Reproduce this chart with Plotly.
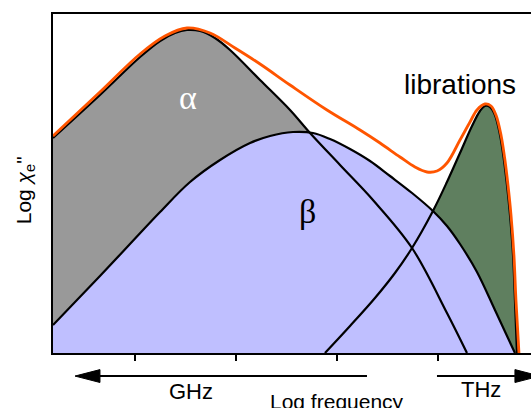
import plotly.graph_objects as go

# Log frequency (tick positions at 1,2,3,4), log chi'' in arbitrary units
alpha_x = [0.188, 0.653, 1.050, 1.248, 1.396, 1.515, 1.644, 1.792, 1.941, 2.238, 2.535, 2.733, 3.030, 3.356, 3.743, 4.089, 4.287]
alpha_y = [215, 258, 296, 312, 320, 323, 322, 315, 303, 273, 243, 220, 188, 153, 105, 40, 0]

beta_x = [0.188, 0.653, 0.950, 1.248, 1.545, 1.842, 2.139, 2.337, 2.564, 2.762, 2.931, 3.129, 3.327, 3.525, 3.743, 3.950, 4.089, 4.218, 4.386, 4.564, 4.762]
beta_y = [28, 77, 109, 141, 171, 193, 210, 217, 221, 220, 214, 204, 192, 177, 160, 142, 127, 109, 81, 43, 0]

lib_x = [2.881, 3.129, 3.376, 3.574, 3.743, 3.950, 4.089, 4.218, 4.337, 4.416, 4.465, 4.515, 4.564, 4.614, 4.653, 4.683, 4.713, 4.743, 4.762, 4.782]
lib_y = [0, 27, 55, 80, 105, 142, 171, 200, 227, 242, 247, 246, 238, 218, 193, 168, 138, 98, 53, 0]

total_x = [0.188, 0.653, 1.050, 1.297, 1.515, 1.743, 1.990, 2.238, 2.535, 2.901, 3.228, 3.426, 3.624, 3.772, 3.891, 3.990, 4.089, 4.218, 4.317, 4.386, 4.465, 4.525, 4.574, 4.624, 4.663, 4.693, 4.723, 4.752, 4.772, 4.802]
total_y = [217, 261, 299, 317, 325, 320, 305, 289, 268, 243, 223, 210, 196, 186, 181, 182, 190, 213, 231, 243, 249, 247, 238, 218, 193, 168, 138, 98, 53, 0]

tick_vals = [1, 2, 3, 4]
x_range = [0.188, 4.921]
y_range = [0, 339]

GRAY = "#999999"
BLUE = "#bfbfff"
GREEN = "#5f7f5f"
ORANGE = "#ff5500"

fig = go.Figure()
# fills (gray, green, blue stacked in drawing order)
for xs, ys, col in [(alpha_x, alpha_y, GRAY), (lib_x, lib_y, GREEN), (beta_x, beta_y, BLUE)]:
    fig.add_trace(go.Scatter(x=xs, y=ys, mode="lines", fill="tozeroy", fillcolor=col,
                             line=dict(width=0, shape="spline", color=col), hoverinfo="skip"))
# outlines
for xs, ys in [(alpha_x, alpha_y), (beta_x, beta_y), (lib_x, lib_y)]:
    fig.add_trace(go.Scatter(x=xs, y=ys, mode="lines",
                             line=dict(width=2.2, shape="spline", color="black")))
fig.add_trace(go.Scatter(x=total_x, y=total_y, mode="lines",
                         line=dict(width=2.8, shape="spline", color=ORANGE)))

def px(x):
    return (x - x_range[0]) / (x_range[1] - x_range[0])

arrow_y = -0.068
head_h = 0.019
ghz_arrow = (0.406, 0.653, 3.297)   # tip, head base, tail
thz_arrow = (3.990, 4.762, 5.010)   # tail, head base, tip
shapes = [
    dict(type="line", xref="paper", yref="paper", x0=px(ghz_arrow[1]), x1=px(ghz_arrow[2]),
         y0=arrow_y, y1=arrow_y, line=dict(color="black", width=2)),
    dict(type="path", xref="paper", yref="paper",
         path=f"M {px(ghz_arrow[0])},{arrow_y} L {px(ghz_arrow[1])},{arrow_y+head_h} L {px(ghz_arrow[1])},{arrow_y-head_h} Z",
         fillcolor="black", line=dict(color="black", width=1)),
    dict(type="line", xref="paper", yref="paper", x0=px(thz_arrow[0]), x1=px(thz_arrow[1]),
         y0=arrow_y, y1=arrow_y, line=dict(color="black", width=2)),
    dict(type="path", xref="paper", yref="paper",
         path=f"M {px(thz_arrow[2])},{arrow_y} L {px(thz_arrow[1])},{arrow_y+head_h} L {px(thz_arrow[1])},{arrow_y-head_h} Z",
         fillcolor="black", line=dict(color="black", width=1)),
]

sans = "Liberation Sans, Arial, sans-serif"
serif = "Liberation Serif, Times New Roman, serif"
annotations = [
    dict(x=1.525, y=256, xref="x", yref="y", text="α", showarrow=False,
         font=dict(family=serif, size=34, color="white")),
    dict(x=2.703, y=142, xref="x", yref="y", text="β", showarrow=False,
         font=dict(family=serif, size=34, color="black")),
    dict(x=4.218, y=269, xref="x", yref="y", text="librations", showarrow=False,
         font=dict(family=sans, size=28, color="black")),
    dict(x=1.554, y=-0.115, xref="x", yref="paper", text="GHz", showarrow=False,
         yanchor="middle", xanchor="center",
         font=dict(family=sans, size=22, color="black")),
    dict(x=4.426, y=-0.109, xref="x", yref="paper", text="THz", showarrow=False,
         yanchor="middle", xanchor="center",
         font=dict(family=sans, size=22, color="black")),
    dict(x=3.0, y=-0.142, xref="x", yref="paper", text="Log frequency", showarrow=False,
         yanchor="middle", xanchor="center",
         font=dict(family=sans, size=21, color="black")),
    dict(x=-28 / 478, y=0.48, xref="paper", yref="paper", text="Log <i>χ</i><sub>e</sub>\"",
         showarrow=False, textangle=-90, xanchor="center", yanchor="middle",
         font=dict(family=sans, size=21, color="black")),
]

fig.update_layout(
    width=531, height=408,
    margin=dict(l=53, r=0, t=14, b=55),
    paper_bgcolor="white", plot_bgcolor="white",
    showlegend=False,
    shapes=shapes, annotations=annotations,
    xaxis=dict(range=x_range, tickvals=tick_vals, showticklabels=False, ticks="outside",
               ticklen=6, tickwidth=2, tickcolor="black", showline=True, linewidth=2,
               linecolor="black", mirror=True, showgrid=False, zeroline=False, fixedrange=True),
    yaxis=dict(range=y_range, showticklabels=False, ticks="", showline=True, linewidth=2,
               linecolor="black", showgrid=False, zeroline=False, fixedrange=True),
)
fig.write_html("out.html", config={"displayModeBar": False},
               post_script="document.body.style.margin='0';document.body.style.overflow='hidden';")
